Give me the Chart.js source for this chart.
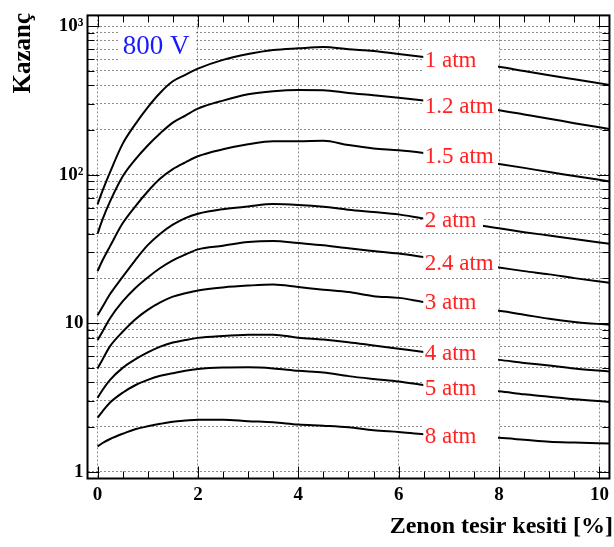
<!DOCTYPE html>
<html><head><meta charset="utf-8">
<script src="https://cdn.jsdelivr.net/npm/chart.js@4/dist/chart.umd.min.js"></script>
<style>html,body{margin:0;padding:0;background:#fff}#wrap{width:614px;height:547px}</style>
</head><body><div id="wrap"><canvas id="c" width="614" height="547"></canvas></div>
<script>
// ---- data ----
const xValues = [0,0.1,0.25,0.5,0.75,1,1.25,1.5,1.75,2,2.5,3,3.5,4,4.5,5,5.5,6,6.5,7,7.5,8,8.5,9,9.5,10.2];
const gain1atm  = [63,78,104,161,218,284,356,425,470,517,592,648,690,708,722,698,680,648,620,594,563,533,498,466,438,402];
const gain12atm = [40,50,66,97,126,157,190,224,250,278,315,347,364,371,370,354,342,329,315,300,286,271,254,238,222,203];
const gain15atm = [22.4,26.5,33,47,61,77,94,109,121,133,148,160,168,168,169,158,150,146,140,133,125,118,111,104,98,90];
const gain2atm  = [11.3,12.9,15.7,20.5,26.5,33.5,40,46,51,54.5,58.5,61,63.3,62.5,60.8,58,56,54,50.6,48,46,43.5,41,38.9,36.9,34.2];
const gain24atm = [7.7,8.8,10.8,14,17.2,20.3,23.5,26.5,29,31.4,33.2,35.2,35.8,34.6,33.4,31.9,30.6,29.4,27.9,26.4,25,23.7,22.4,21.3,20.1,18.7];
const gain3atm  = [4.96,5.7,7.0,8.75,10.6,12.3,13.8,15.1,15.9,16.6,17.4,17.9,18.2,17.5,16.8,16.2,15.2,14.8,13.9,13.2,12.6,12.1,11.4,10.7,10.2,9.75];
const gain4atm  = [3.14,3.55,4.15,5.0,5.7,6.35,6.95,7.4,7.7,7.96,8.2,8.35,8.37,7.98,7.76,7.45,7.08,6.73,6.4,6.1,5.88,5.66,5.4,5.18,4.95,4.72];
const gain5atm  = [2.31,2.55,2.92,3.4,3.82,4.15,4.42,4.6,4.78,4.91,5.02,5.04,4.96,4.78,4.66,4.4,4.21,4.05,3.84,3.7,3.58,3.48,3.32,3.2,3.07,2.95];
const gain8atm  = [1.48,1.56,1.66,1.8,1.93,2.02,2.1,2.17,2.21,2.24,2.24,2.19,2.15,2.08,2.04,1.99,1.9,1.85,1.79,1.75,1.72,1.69,1.64,1.59,1.57,1.55];
const seriesNames = ['1 atm','1.2 atm','1.5 atm','2 atm','2.4 atm','3 atm','4 atm','5 atm','8 atm'];
const seriesValues = [gain1atm,gain12atm,gain15atm,gain2atm,gain24atm,gain3atm,gain4atm,gain5atm,gain8atm];
const labelGain = [596,291,134,49.6,25.3,14.0,6.33,3.66,1.73];
const labelBoxEnd = [7.98,7.98,7.98,7.68,7.98,7.98,7.98,7.98,7.98];
const xTickValues = [0,2,4,6,8,10];
const xTickLabels = ['0','2','4','6','8','10'];
const yTickValues = [1,2,3,4,5,6,7,8,9,10,20,30,40,50,60,70,80,90,100,200,300,400,500,600,700,800,900,1000];
const yTickLabels = {1:'1',10:'10',100:'10²',1000:'10³'};
const voltageText = '800 V';
const xTitle = 'Zenon tesir kesiti [%]';
const yTitle = 'Kazanç';

// ---- chart ----
const SERIF = '"Liberation Serif","Times New Roman",serif';
const datasets = seriesNames.map((n,i)=>({
  label:n,
  data:xValues.map((x,j)=>({x:x,y:seriesValues[i][j]})),
  borderColor:'#000', borderWidth:2, pointRadius:0,
  cubicInterpolationMode:'monotone', fill:false
}));

const deco = {
  id:'deco',
  afterDatasetsDraw(chart){
    const {ctx, scales:{x,y}} = chart;
    ctx.save();
    ctx.textBaseline='middle';
    ctx.textAlign='left';
    ctx.font = '23px '+SERIF;
    seriesNames.forEach((n,i)=>{
      const bx0 = x.getPixelForValue(6.49), bx1 = x.getPixelForValue(labelBoxEnd[i]);
      const cy = y.getPixelForValue(labelGain[i]);
      ctx.fillStyle='#fff';
      ctx.fillRect(bx0, cy-12, bx1-bx0, 24);
      ctx.fillStyle='#ff2222';
      ctx.fillText(n, x.getPixelForValue(6.52), cy+1);
    });
    // voltage label
    ctx.font = '27px '+SERIF;
    const vx = x.getPixelForValue(0.5), vy = y.getPixelForValue(737);
    const w = ctx.measureText(voltageText).width;
    ctx.fillStyle='#fff';
    ctx.fillRect(vx-3, vy-14, w+8, 28);
    ctx.fillStyle='#1a1aff';
    ctx.fillText(voltageText, vx, vy+1);
    ctx.restore();
  },
  afterDraw(chart){
    const {ctx, chartArea:a, scales:{x,y}} = chart;
    ctx.save();
    ctx.strokeStyle='#000'; ctx.lineWidth=1;
    ctx.beginPath();
    for(let k=0;k<=20;k++){
      const v=k*0.5, px=Math.round(x.getPixelForValue(v))+0.5;
      const L = (k%4===0)?12:7;
      ctx.moveTo(px,a.bottom); ctx.lineTo(px,a.bottom-L);
      ctx.moveTo(px,a.top); ctx.lineTo(px,a.top+L);
    }
    yTickValues.forEach(v=>{
      const py=Math.round(y.getPixelForValue(v))+0.5;
      const L = yTickLabels[v]?12:7;
      ctx.moveTo(a.left,py); ctx.lineTo(a.left+L,py);
      ctx.moveTo(a.right,py); ctx.lineTo(a.right-L,py);
    });
    ctx.stroke();
    ctx.lineWidth=2;
    ctx.strokeRect(a.left, a.top, a.right-a.left, a.bottom-a.top);
    ctx.fillStyle='#000';
    ctx.font='bold 24px '+SERIF;
    ctx.textAlign='right'; ctx.textBaseline='alphabetic';
    ctx.fillText(xTitle, 613, 533);
    ctx.translate(30, 13);
    ctx.rotate(-Math.PI/2);
    ctx.font='bold 25px '+SERIF;
    ctx.textAlign='right';
    ctx.fillText(yTitle, 0, 0);
    ctx.restore();
  }
};

new Chart(document.getElementById('c'), {
  type:'line',
  data:{datasets},
  options:{
    responsive:false, animation:false, devicePixelRatio:1,
    layout:{padding:{top:7,right:4.5,left:0,bottom:0}},
    plugins:{legend:{display:false}, tooltip:{enabled:false}},
    scales:{
      x:{
        type:'linear', min:-0.2, max:10.2,
        afterBuildTicks:s=>{s.ticks = xTickValues.map(v=>({value:v}));},
        afterFit:s=>{s.height=68.5;},
        ticks:{callback:(v,i)=>xTickLabels[i], autoSkip:false, maxRotation:0, padding:5, color:'#000', font:{family:SERIF, size:19, weight:'bold'}},
        grid:{color:'rgba(0,0,0,0.45)', lineWidth:1, drawTicks:false, tickLength:0},
        border:{display:false, dash:[2,2]}
      },
      y:{
        type:'logarithmic', min:0.9, max:1180,
        afterBuildTicks:s=>{s.ticks = yTickValues.map(v=>({value:v}));},
        afterFit:s=>{s.width=87.5;},
        ticks:{callback:(v)=>yTickLabels[v]||'', autoSkip:false, padding:4, color:'#000', font:{family:SERIF, size:19, weight:'bold'}},
        grid:{color:'rgba(0,0,0,0.45)', lineWidth:1, drawTicks:false, tickLength:0},
        border:{display:false, dash:[2,2]}
      }
    }
  },
  plugins:[deco]
});
</script></body></html>
